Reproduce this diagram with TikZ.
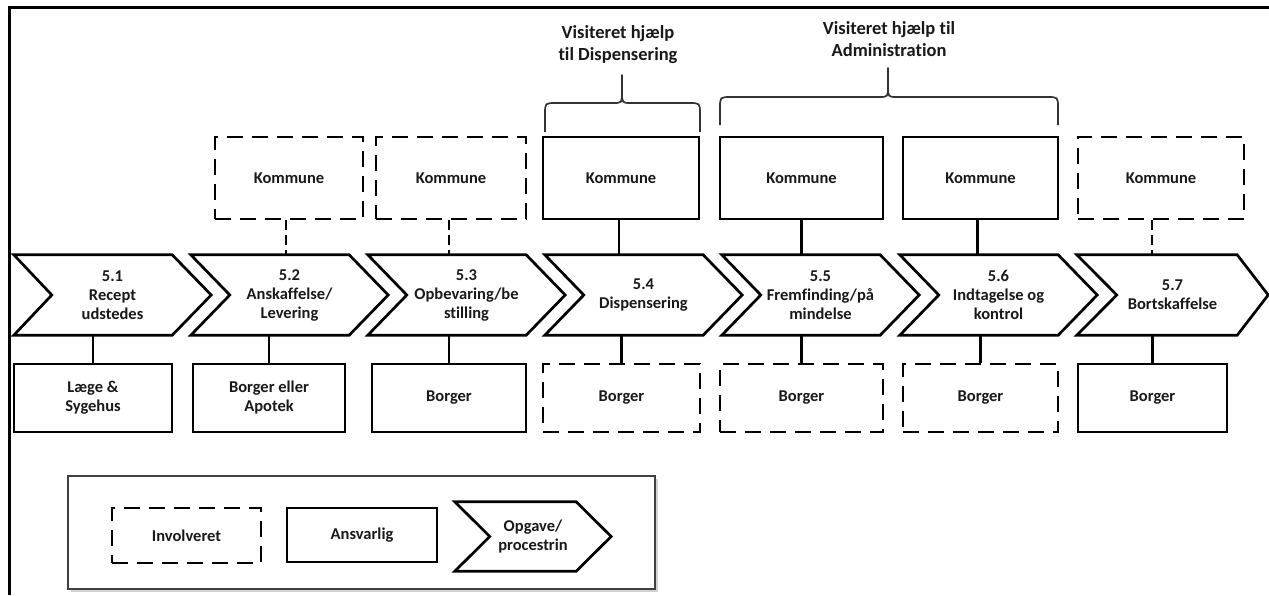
\documentclass[tikz,border=0pt]{standalone}
\usepackage{fontspec}
\setmainfont{Carlito}[Ligatures=NoCommon]
\newcommand{\chevpath}[3]{%
  \draw[chevline] (#1.north west) -- ([xshift=-#2pt]#1.north east) -- (#1.east)
    -- ([xshift=-#2pt]#1.south east) -- (#1.south west) -- ([xshift=#3pt]#1.west) -- cycle;}
\begin{document}
\begin{tikzpicture}[x=1pt,y=-1pt,
  lbl/.style={font=\bfseries\fontsize{16.5}{19}\selectfont, align=center, text=black!90},
  solidbox/.style={lbl, draw, line width=2.7pt, inner sep=0pt},
  dashbox/.style={solidbox, dash pattern=on 16pt off 9pt},
  chevtext/.style={lbl, inner sep=0pt, minimum height=80pt},
  chevline/.style={line width=2.7pt, line join=miter},
  link/.style={line width=2.7pt},
  dlink/.style={link, dash pattern=on 10pt off 5pt},
  bracel/.style={line width=1.7pt, black!80, line join=round},
  toplbl/.style={font=\bfseries\fontsize{18.5}{22}\selectfont, align=center, text=black!90},
  frame/.style={line width=3pt}]
\fill[white] (0,0) rectangle (1269,595);
\useasboundingbox (0,0) rectangle (1269,595);
\draw[frame] (9,595) -- (9,7) -- (1269,7);

% chevrons
\node[chevtext, minimum width=197pt] (c1) at (112.5,295) {5.1\\Recept\\udstedes};
\node[chevtext, minimum width=197pt] (c2) at (289.5,295) {5.2\\Anskaffelse/\\Levering};
\node[chevtext, minimum width=197pt] (c3) at (466.5,295) {5.3\\Opbevaring/be\\stilling};
\node[chevtext, minimum width=197pt] (c4) at (643.5,295) {5.4\\Dispensering};
\node[chevtext, minimum width=197pt] (c5) at (820.5,295) {5.5\\Fremfinding/på\\mindelse};
\node[chevtext, minimum width=197pt] (c6) at (998.5,295) {5.6\\Indtagelse og\\kontrol};
\node[chevtext, minimum width=191pt] (c7) at (1172.5,295) {5.7\\Bortskaffelse};
\chevpath{c1}{39}{38}
\chevpath{c2}{39}{39}
\chevpath{c3}{39}{39}
\chevpath{c4}{39}{39}
\chevpath{c5}{39}{39}
\chevpath{c6}{39}{39}
\chevpath{c7}{31}{40}

% top boxes
\node[dashbox, minimum width=148pt, minimum height=82pt] (k2) at (289,178) {Kommune};
\node[dashbox, minimum width=150pt, minimum height=82pt] (k3) at (451,178) {Kommune};
\node[solidbox, minimum width=156pt, minimum height=82pt] (k4) at (621,178) {Kommune};
\node[solidbox, minimum width=163pt, minimum height=82pt] (k5) at (801.5,178) {Kommune};
\node[solidbox, minimum width=155pt, minimum height=82pt] (k6) at (980.5,178) {Kommune};
\node[dashbox, minimum width=166pt, minimum height=82pt] (k7) at (1161,178) {Kommune};

% bottom boxes
\node[solidbox, minimum width=158pt, minimum height=68pt] (b1) at (93,398) {Læge \&\\Sygehus};
\node[solidbox, minimum width=152pt, minimum height=68pt] (b2) at (269,398) {Borger eller\\Apotek};
\node[solidbox, minimum width=154pt, minimum height=68pt] (b3) at (449,398) {Borger};
\node[dashbox, minimum width=157pt, minimum height=68pt] (b4) at (621.5,398) {Borger};
\node[dashbox, minimum width=163pt, minimum height=68pt] (b5) at (801.5,398) {Borger};
\node[dashbox, minimum width=155pt, minimum height=68pt] (b6) at (980.5,398) {Borger};
\node[solidbox, minimum width=149pt, minimum height=68pt] (b7) at (1152.5,398) {Borger};

% top connectors
\draw[dlink] ([xshift=-3pt]k2.south) -- ([xshift=-3pt]k2.south |- c2.north);
\draw[dlink] ([xshift=-2pt]k3.south) -- ([xshift=-2pt]k3.south |- c3.north);
\draw[link] ([xshift=-2pt]k4.south) -- ([xshift=-2pt]k4.south |- c4.north);
\draw[link] (k5.south) -- (k5.south |- c5.north);
\draw[link] ([xshift=-3pt]k6.south) -- ([xshift=-3pt]k6.south |- c6.north);
\draw[dlink] ([xshift=-9pt]k7.south) -- ([xshift=-9pt]k7.south |- c7.north);

% bottom connectors
\foreach \i in {1,...,7} {\draw[link] (b\i.north |- c\i.south) -- (b\i.north);}

% top labels and braces
\node[toplbl] (v1) at (618,45) {Visiteret hjælp\\til Dispensering};
\node[toplbl] (v2) at (889,39) {Visiteret hjælp til\\Administration};
\draw[bracel] (545,132) -- (545,114) .. controls (545,103) .. (556,103) -- (613,103)
  .. controls (622,103) .. (622,92) -- (622,75) -- (622,92) .. controls (622,103) .. (631,103)
  -- (689,103) .. controls (700,103) .. (700,114) -- (700,132);
\draw[bracel] (720,125) -- (720,108) .. controls (720,97) .. (731,97) -- (879,97)
  .. controls (888,97) .. (888,86) -- (888,68) -- (888,86) .. controls (888,97) .. (897,97)
  -- (1047,97) .. controls (1058,97) .. (1058,108) -- (1058,125);

% legend
\fill[black!18] (71,479) rectangle (658,592);
\node[draw=black!75, line width=1.3pt, fill=white, minimum width=587pt, minimum height=113pt, inner sep=0pt] (legend) at (361.5,532.5) {};
\node[dashbox, minimum width=149pt, minimum height=55pt] (li) at (186.5,535.5) {Involveret};
\node[solidbox, minimum width=150pt, minimum height=54pt] (la) at (362,535) {Ansvarlig};
\node[chevtext, minimum width=156pt, minimum height=69pt] (lo) at (533,536.5) {Opgave/\\procestrin};
\chevpath{lo}{35}{35}
\end{tikzpicture}
\end{document}
